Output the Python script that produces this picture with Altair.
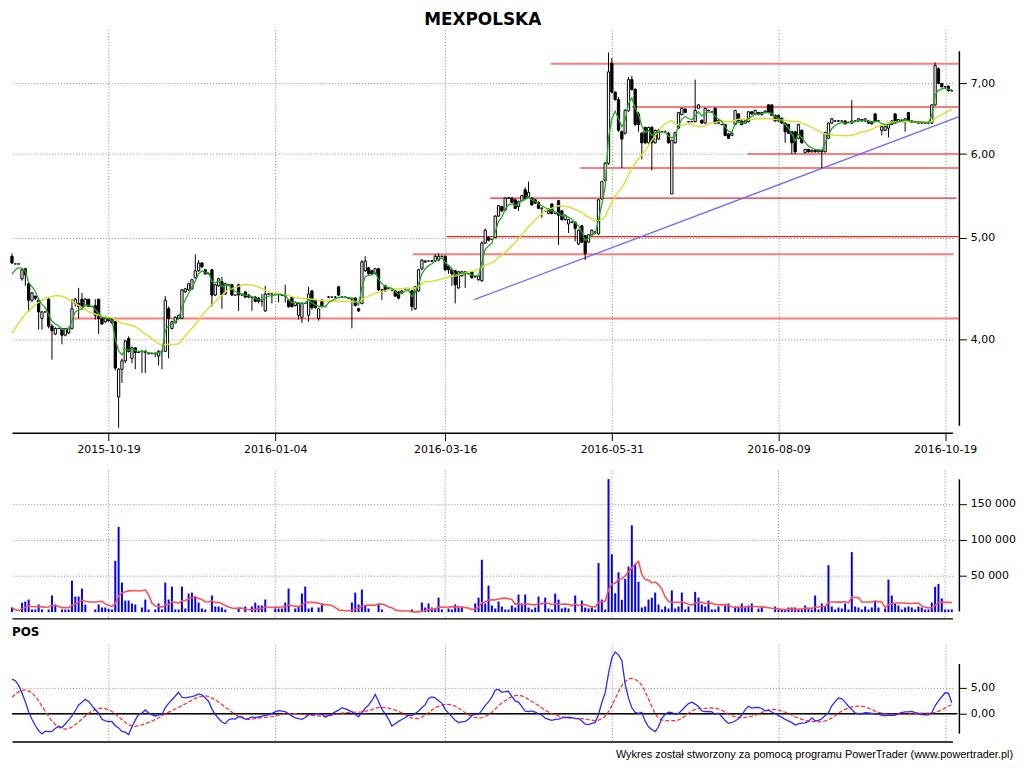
import altair as alt
import pandas as pd

# ---------------- data ----------------
open_ = [
    4.80, 4.72, 4.72, 4.57, 4.67, 4.52, 4.36, 4.40, 4.36, 4.19,
    4.25, 4.37, 4.12, 4.05, 4.10, 4.10, 4.04, 4.06, 4.10, 4.33,
    4.33, 4.37, 4.31, 4.37, 4.30, 4.31, 4.37, 4.19, 4.16, 4.19,
    4.19, 4.16, 3.53, 3.75, 3.82, 4.01, 3.84, 3.93, 3.89, 3.90,
    3.90, 3.88, 3.88, 3.88, 3.86, 3.90, 3.90, 4.28, 4.10, 4.15,
    4.19, 4.19, 4.44, 4.46, 4.47, 4.58, 4.65, 4.73, 4.66, 4.62,
    4.66, 4.41, 4.50, 4.54, 4.42, 4.51, 4.51, 4.41, 4.51, 4.41,
    4.44, 4.41, 4.39, 4.39, 4.38, 4.35, 4.26, 4.42, 4.42, 4.42,
    4.42, 4.41, 4.41, 4.36, 4.39, 4.31, 4.22, 4.20, 4.33, 4.22,
    4.45, 4.36, 4.19, 4.36, 4.30, 4.39, 4.39, 4.39, 4.49, 4.39,
    4.39, 4.38, 4.38, 4.38, 4.28, 4.33, 4.65, 4.68, 4.65, 4.62,
    4.67, 4.46, 4.50, 4.47, 4.46, 4.45, 4.44, 4.43, 4.47, 4.47,
    4.45, 4.28, 4.45, 4.67, 4.74, 4.75, 4.75, 4.75, 4.76, 4.80,
    4.80, 4.70, 4.66, 4.65, 4.48, 4.60, 4.64, 4.62, 4.64, 4.59,
    4.56, 4.55, 4.94, 5.00, 4.98, 5.00, 5.24, 5.35, 5.31, 5.45,
    5.45, 5.43, 5.35, 5.42, 5.55, 5.47, 5.45, 5.43, 5.40, 5.33,
    5.30, 5.27, 5.38, 5.27, 5.42, 5.30, 5.20, 5.15, 5.17, 5.17,
    4.93, 5.13, 5.02, 4.95, 5.03, 5.06, 5.04, 5.44, 5.66, 5.88,
    7.32, 6.87, 6.76, 6.30, 6.28, 6.60, 7.06, 6.91, 6.55, 6.28,
    6.36, 6.15, 6.36, 6.15, 6.20, 6.30, 6.30, 6.28, 5.50, 6.15,
    6.35, 6.54, 6.62, 6.44, 6.44, 6.44, 6.63, 6.46, 6.42, 6.60,
    6.58, 6.63, 6.46, 6.40, 6.40, 6.27, 6.25, 6.40, 6.55, 6.45,
    6.42, 6.44, 6.58, 6.55, 6.57, 6.54, 6.57, 6.68, 6.68, 6.53,
    6.53, 6.49, 6.42, 6.40, 6.30, 6.30, 6.21, 6.32, 6.02, 6.06,
    6.03, 6.05, 6.03, 6.05, 6.03, 6.21, 6.42, 6.45, 6.45, 6.45,
    6.45, 6.43, 6.42, 6.45, 6.45, 6.47, 6.45, 6.45, 6.44, 6.55,
    6.45, 6.32, 6.32, 6.35, 6.40, 6.55, 6.44, 6.46, 6.44, 6.57,
    6.45, 6.43, 6.42, 6.43, 6.42, 6.43, 6.42, 6.68, 7.23, 7.00,
    6.95, 6.96, 6.89,
]
close = [
    4.73, 4.72, 4.72, 4.66, 4.61, 4.36, 4.43, 4.38, 4.25, 4.25,
    4.25, 4.12, 4.08, 4.10, 4.10, 4.04, 4.10, 4.10, 4.28, 4.37,
    4.30, 4.29, 4.37, 4.30, 4.30, 4.22, 4.19, 4.14, 4.19, 4.17,
    4.15, 3.76, 3.75, 3.82, 3.99, 3.90, 3.93, 3.89, 3.89, 3.90,
    3.89, 3.88, 3.88, 3.88, 3.90, 3.90, 4.36, 4.19, 4.16, 4.20,
    4.22, 4.46, 4.47, 4.52, 4.56, 4.65, 4.73, 4.69, 4.62, 4.62,
    4.41, 4.51, 4.57, 4.41, 4.52, 4.51, 4.41, 4.41, 4.41, 4.41,
    4.39, 4.39, 4.39, 4.35, 4.35, 4.35, 4.42, 4.42, 4.42, 4.42,
    4.42, 4.41, 4.40, 4.30, 4.30, 4.34, 4.33, 4.33, 4.33, 4.42,
    4.29, 4.29, 4.28, 4.30, 4.30, 4.39, 4.39, 4.39, 4.41, 4.39,
    4.39, 4.38, 4.37, 4.31, 4.26, 4.74, 4.75, 4.62, 4.62, 4.67,
    4.46, 4.46, 4.45, 4.47, 4.46, 4.40, 4.38, 4.45, 4.47, 4.47,
    4.30, 4.49, 4.66, 4.76, 4.75, 4.75, 4.75, 4.80, 4.80, 4.80,
    4.66, 4.66, 4.62, 4.51, 4.64, 4.64, 4.62, 4.62, 4.58, 4.59,
    4.60, 4.94, 5.08, 4.97, 4.98, 5.24, 5.36, 5.30, 5.45, 5.45,
    5.40, 5.33, 5.41, 5.48, 5.45, 5.52, 5.37, 5.39, 5.33, 5.33,
    5.30, 5.30, 5.27, 5.27, 5.25, 5.20, 5.25, 5.20, 5.17, 5.10,
    5.08, 4.95, 4.83, 5.03, 5.08, 5.06, 5.43, 5.65, 5.88, 7.18,
    6.87, 6.76, 6.32, 6.20, 6.60, 7.06, 6.91, 6.40, 6.40, 6.15,
    6.15, 6.36, 6.15, 6.32, 6.32, 6.30, 6.30, 6.15, 6.18, 6.29,
    6.57, 6.63, 6.57, 6.44, 6.44, 6.60, 6.68, 6.42, 6.63, 6.60,
    6.58, 6.42, 6.42, 6.40, 6.25, 6.21, 6.28, 6.60, 6.45, 6.40,
    6.45, 6.58, 6.55, 6.60, 6.54, 6.57, 6.59, 6.57, 6.53, 6.45,
    6.45, 6.42, 6.30, 6.28, 6.15, 6.03, 6.40, 6.15, 6.06, 6.03,
    6.05, 6.03, 6.05, 6.03, 6.29, 6.42, 6.48, 6.45, 6.45, 6.45,
    6.41, 6.43, 6.45, 6.45, 6.48, 6.45, 6.48, 6.42, 6.41, 6.45,
    6.45, 6.37, 6.37, 6.40, 6.45, 6.42, 6.47, 6.46, 6.48, 6.45,
    6.43, 6.43, 6.44, 6.42, 6.43, 6.42, 6.68, 7.28, 7.00, 6.95,
    6.95, 6.89, 6.89,
]
high = [
    4.83, 4.72, 4.72, 4.68, 4.68, 4.53, 4.44, 4.40, 4.38, 4.26,
    4.25, 4.38, 4.14, 4.11, 4.10, 4.10, 4.10, 4.11, 4.37, 4.38,
    4.48, 4.43, 4.38, 4.37, 4.30, 4.37, 4.37, 4.20, 4.20, 4.19,
    4.19, 4.17, 3.76, 3.84, 4.00, 4.03, 3.94, 3.93, 3.89, 3.91,
    3.91, 3.88, 3.88, 3.89, 3.91, 3.90, 4.40, 4.30, 4.17, 4.21,
    4.22, 4.47, 4.48, 4.53, 4.57, 4.82, 4.76, 4.74, 4.67, 4.62,
    4.67, 4.52, 4.58, 4.59, 4.53, 4.51, 4.52, 4.41, 4.52, 4.41,
    4.45, 4.42, 4.40, 4.40, 4.39, 4.42, 4.50, 4.43, 4.43, 4.42,
    4.43, 4.42, 4.51, 4.37, 4.40, 4.35, 4.34, 4.34, 4.33, 4.49,
    4.46, 4.37, 4.29, 4.37, 4.30, 4.40, 4.39, 4.40, 4.50, 4.40,
    4.39, 4.39, 4.38, 4.39, 4.29, 4.76, 4.80, 4.69, 4.66, 4.68,
    4.68, 4.47, 4.51, 4.48, 4.47, 4.46, 4.45, 4.46, 4.48, 4.47,
    4.46, 4.50, 4.67, 4.77, 4.76, 4.75, 4.76, 4.82, 4.83, 4.80,
    4.81, 4.71, 4.67, 4.66, 4.65, 4.65, 4.64, 4.62, 4.65, 4.60,
    4.61, 4.96, 5.10, 5.01, 4.98, 5.25, 5.37, 5.36, 5.46, 5.46,
    5.46, 5.44, 5.42, 5.49, 5.58, 5.65, 5.46, 5.44, 5.41, 5.34,
    5.31, 5.31, 5.39, 5.28, 5.43, 5.31, 5.26, 5.21, 5.18, 5.18,
    5.09, 5.14, 5.03, 5.04, 5.09, 5.07, 5.44, 5.66, 5.90, 7.49,
    7.40, 6.88, 6.80, 6.32, 6.62, 7.10, 7.12, 6.93, 6.58, 6.30,
    6.37, 6.37, 6.38, 6.33, 6.34, 6.31, 6.32, 6.30, 6.19, 6.30,
    6.58, 6.64, 6.63, 6.45, 6.44, 7.06, 6.69, 6.47, 6.64, 6.61,
    6.58, 6.64, 6.47, 6.41, 6.41, 6.28, 6.29, 6.61, 6.56, 6.46,
    6.46, 6.59, 6.59, 6.61, 6.58, 6.58, 6.60, 6.69, 6.69, 6.54,
    6.54, 6.50, 6.43, 6.41, 6.31, 6.31, 6.41, 6.33, 6.07, 6.07,
    6.06, 6.06, 6.06, 6.06, 6.30, 6.43, 6.49, 6.46, 6.46, 6.45,
    6.46, 6.44, 6.75, 6.46, 6.49, 6.48, 6.49, 6.46, 6.45, 6.56,
    6.46, 6.38, 6.38, 6.41, 6.46, 6.56, 6.48, 6.47, 6.49, 6.58,
    6.46, 6.44, 6.45, 6.44, 6.44, 6.44, 6.69, 7.33, 7.25, 7.01,
    6.96, 6.97, 6.90,
]
low = [
    4.72, 4.72, 4.72, 4.55, 4.50, 4.25, 4.34, 4.36, 4.09, 4.09,
    4.25, 4.10, 3.83, 4.04, 4.10, 3.96, 4.03, 4.05, 4.09, 4.30,
    4.19, 4.27, 4.30, 4.30, 4.30, 4.18, 4.05, 4.13, 4.15, 4.16,
    4.14, 3.74, 3.30, 3.64, 3.80, 3.89, 3.80, 3.75, 3.89, 3.72,
    3.72, 3.88, 3.88, 3.85, 3.78, 3.75, 3.90, 3.84, 4.09, 4.15,
    4.19, 4.19, 4.43, 4.45, 4.46, 4.57, 4.64, 4.68, 4.61, 4.62,
    4.30, 4.40, 4.49, 4.28, 4.41, 4.51, 4.40, 4.41, 4.26, 4.41,
    4.38, 4.38, 4.26, 4.34, 4.33, 4.30, 4.25, 4.41, 4.33, 4.42,
    4.34, 4.40, 4.34, 4.29, 4.29, 4.30, 4.18, 4.15, 4.33, 4.16,
    4.27, 4.28, 4.17, 4.29, 4.30, 4.38, 4.39, 4.38, 4.40, 4.38,
    4.39, 4.37, 4.10, 4.30, 4.25, 4.32, 4.64, 4.61, 4.61, 4.61,
    4.45, 4.36, 4.44, 4.46, 4.45, 4.39, 4.37, 4.42, 4.46, 4.47,
    4.26, 4.27, 4.44, 4.66, 4.73, 4.75, 4.74, 4.74, 4.75, 4.80,
    4.65, 4.62, 4.50, 4.33, 4.47, 4.59, 4.48, 4.62, 4.57, 4.58,
    4.55, 4.54, 4.93, 4.96, 4.98, 4.99, 5.23, 5.29, 5.30, 5.44,
    5.39, 5.32, 5.30, 5.41, 5.44, 5.46, 5.36, 5.38, 5.32, 5.22,
    5.29, 5.26, 5.26, 5.26, 4.92, 5.19, 5.19, 5.05, 5.16, 4.96,
    4.92, 4.94, 4.76, 4.94, 5.02, 5.05, 5.03, 5.43, 5.65, 5.86,
    6.85, 6.74, 6.30, 5.82, 6.26, 6.58, 6.89, 6.38, 6.30, 5.93,
    6.13, 6.14, 5.79, 6.14, 6.19, 6.29, 6.28, 6.14, 5.50, 6.14,
    6.34, 6.53, 6.56, 6.43, 6.44, 6.43, 6.62, 6.41, 6.41, 6.59,
    6.58, 6.41, 6.41, 6.39, 6.24, 6.20, 6.24, 6.39, 6.44, 6.39,
    6.41, 6.43, 6.54, 6.54, 6.53, 6.53, 6.56, 6.56, 6.52, 6.44,
    6.44, 6.41, 6.15, 6.27, 6.00, 6.00, 6.20, 6.14, 6.01, 6.02,
    6.02, 6.02, 6.02, 5.82, 6.02, 6.20, 6.41, 6.44, 6.44, 6.45,
    6.40, 6.42, 6.41, 6.44, 6.44, 6.44, 6.44, 6.41, 6.40, 6.44,
    6.44, 6.25, 6.31, 6.22, 6.39, 6.41, 6.43, 6.45, 6.30, 6.44,
    6.42, 6.42, 6.41, 6.41, 6.41, 6.41, 6.41, 6.67, 6.99, 6.94,
    6.94, 6.88, 6.88,
]
volume = [
    6400, 0, 0, 12900, 14700, 17400, 3700, 3700, 10600, 3700,
    0, 3700, 23000, 10600, 0, 3700, 3700, 3700, 43600, 21600,
    21600, 32600, 10600, 0, 0, 3700, 10600, 6400, 6400, 4600,
    3700, 71000, 118000, 40900, 16000, 16000, 12000, 10600, 0, 6400,
    17400, 3700, 0, 3700, 12000, 3700, 40900, 17400, 35300, 3700,
    3700, 35300, 5000, 25700, 27000, 21600, 13300, 5000, 3700, 0,
    23000, 7800, 7800, 6400, 3700, 0, 0, 0, 6400, 0,
    7800, 0, 7800, 13300, 9200, 9200, 17400, 0, 0, 5000,
    5000, 5000, 13300, 32600, 0, 5000, 7800, 25700, 35300, 5000,
    6400, 0, 6400, 12000, 0, 0, 0, 0, 0, 0,
    0, 0, 13300, 27000, 10600, 31200, 9200, 5000, 0, 0,
    12000, 3700, 0, 0, 0, 0, 0, 0, 0, 0,
    3700, 0, 0, 13300, 6400, 12000, 6400, 5000, 20000, 3700,
    0, 5000, 3700, 10600, 6400, 7800, 0, 0, 0, 12000,
    20000, 72500, 12000, 36700, 9200, 5000, 14700, 7800, 3700, 3700,
    9200, 6400, 24300, 12000, 24300, 6400, 3700, 6400, 21600, 0,
    20000, 5000, 3700, 25700, 17400, 5000, 6400, 5000, 0, 23000,
    0, 16000, 6400, 5000, 6400, 3700, 68000, 17400, 3700, 184000,
    80000, 26000, 55000, 17000, 46000, 63000, 120000, 67000, 42000, 6400,
    7800, 17400, 20000, 27000, 10600, 3700, 7800, 5000, 30000, 5000,
    7800, 27000, 3700, 7800, 0, 28000, 20000, 10600, 7800, 16000,
    3700, 3700, 7800, 0, 9200, 12000, 0, 7800, 7800, 12000,
    7800, 9200, 12000, 0, 5000, 7800, 0, 0, 0, 7800,
    3700, 3700, 3700, 6400, 6400, 6400, 3700, 3700, 9200, 5000,
    3700, 23000, 3700, 12000, 7800, 65000, 7800, 3700, 6400, 5000,
    12000, 3700, 83000, 7800, 6400, 3700, 7800, 3700, 6400, 16000,
    6400, 0, 5000, 45000, 23000, 12000, 9200, 3700, 6400, 7800,
    6400, 3700, 7800, 6400, 3700, 3700, 13300, 35000, 39000, 19000,
    3700, 3700, 3700,
]
# closes before the first visible session, estimated from where the
# moving averages and the oscillator start on the left edge
warmup_close = [3.80, 3.78, 3.82, 3.80, 3.79, 3.81, 3.83, 3.80, 3.82, 3.85,
                3.88, 3.90, 3.92, 3.95, 4.05, 4.20, 4.35, 4.50, 4.62, 4.70]

holidays = ["2015-11-11", "2015-12-24", "2015-12-25", "2015-12-31", "2016-01-01",
            "2016-01-06", "2016-03-25", "2016-03-28", "2016-05-03", "2016-05-26",
            "2016-08-15"]
tick_dates = ["2015-10-19", "2016-01-04", "2016-03-16", "2016-05-31", "2016-08-09", "2016-10-19"]

# horizontal support / resistance lines (price, first bar, last bar, emphasised)
level_price = [7.31, 6.65, 6.00, 5.82, 5.45, 5.01, 4.82, 4.19]
level_start = [161.7, 186.0, 220.7, 170.5, 143.5, 130.4, 120.3, 18.1]
level_end = [284.0, 284.0, 284.0, 284.0, 283.4, 284.0, 282.5, 284.0]
level_strong = [False, False, False, False, True, True, False, False]
# rising trend line
trend_bar = [138.7, 284.0]
trend_price = [4.366, 6.507]

# ---------------- table ----------------
n = len(close)
days = [d.strftime("%Y-%m-%d") for d in pd.bdate_range("2015-09-08", "2016-10-21")]
dates = [d for d in days if d not in holidays]
dates = (dates + [""] * n)[:n]
tick_idx = [dates.index(d) if d in dates else 0 for d in tick_dates]

full = pd.Series(warmup_close + close, dtype=float)
w = len(warmup_close)
sma5 = full.rolling(5, min_periods=1).mean()
sma10 = full.rolling(10, min_periods=1).mean()
pos = 100 * (sma5 / sma10 - 1)
sig = pos.rolling(10, min_periods=1).mean()

df = pd.DataFrame({
    "i": range(n), "date": dates, "open": open_, "high": high, "low": low,
    "close": close, "volume": volume,
})
df["ma_fast"] = full.ewm(span=4, adjust=False).mean().iloc[w:].values
df["ma_slow"] = full.rolling(20, min_periods=1).mean().iloc[w:].values
df["pos"] = pos.iloc[w:].values
df["pos_sig"] = sig.iloc[w:].values
df["vol_ma"] = pd.Series(volume, dtype=float).rolling(10, min_periods=1).mean().values

levels = pd.DataFrame({"price": level_price, "start": level_start,
                       "end": level_end, "strong": level_strong})
trend = pd.DataFrame({"i": trend_bar, "price": trend_price})
ticks = pd.DataFrame({"i": tick_idx})
one = pd.DataFrame({"a": [0]})

# ---------------- styling ----------------
FONT = "DejaVu Sans"
W = 947
GRID = "#888888"
xscale = alt.Scale(domain=[0, 282.2], zero=False, nice=False, padding=0)
label_expr = " : ".join(f"datum.value == {k} ? '{d}'" for k, d in zip(tick_idx, tick_dates)) + " : ''"

x_main_axis = alt.Axis(values=tick_idx, labelExpr=label_expr, grid=True, gridDash=[1, 2],
                       gridColor=GRID, tickSize=8, tickColor="black", domainColor="black",
                       domainWidth=1.5, labelFlush=False, labelOverlap=False, labelPadding=3,
                       labelFont=FONT, labelFontSize=11, labelColor="black", title=None)
x_plain_axis = alt.Axis(values=tick_idx, labels=False, ticks=False, grid=False,
                        domainColor="black", domainWidth=1.5, title=None)
x_pos_axis = alt.Axis(values=tick_idx, labels=False, ticks=False, grid=True, gridDash=[1, 2],
                      gridColor=GRID, domainColor="black", domainWidth=1.5, title=None)

XM = alt.X("i:Q", scale=xscale, axis=x_main_axis)
XV = alt.X("i:Q", scale=xscale, axis=x_plain_axis)
XP = alt.X("i:Q", scale=xscale, axis=x_pos_axis)


def right_axis(values, expr):
    return alt.Axis(orient="right", values=values, offset=7, domain=False, tickSize=7,
                    tickColor="black", grid=True, gridDash=[1, 2], gridColor=GRID,
                    labelExpr=expr, labelPadding=4, labelFont=FONT, labelFontSize=11,
                    labelColor="black", title=None)


DEC = "replace(format(datum.value, '.2f'), '.', ',')"

# ---------------- price panel ----------------
H_MAIN = 406
yscale = alt.Scale(type="log", domain=[3.265, 7.877], nice=False, zero=False, padding=0)
y_axis = right_axis([4, 5, 6, 7], DEC)


def YP(field):
    return alt.Y(field, scale=yscale, axis=y_axis)


base = alt.Chart(df)
lev_norm = alt.Chart(levels).transform_filter("!datum.strong").mark_rule(
    color="#ff7b7b", strokeWidth=2).encode(x=alt.X("start:Q", scale=xscale, axis=x_main_axis),
                                           x2="end:Q", y=YP("price:Q"))
lev_strong = alt.Chart(levels).transform_filter("datum.strong").mark_rule(
    color="#ff2020", strokeWidth=1.4).encode(x=alt.X("start:Q", scale=xscale, axis=x_main_axis),
                                             x2="end:Q", y=YP("price:Q"))
trend_line = alt.Chart(trend).mark_line(color="#6a6aff", strokeWidth=1.3).encode(x=XM, y=YP("price:Q"))
wick = base.mark_rule(color="black", strokeWidth=1).encode(x=XM, y=YP("low:Q"), y2="high:Q")
body = base.mark_bar(size=2.3, stroke="black", strokeWidth=1).encode(
    x=XM, y=YP("open:Q"), y2="close:Q",
    fill=alt.condition("datum.close > datum.open", alt.value("white"), alt.value("black")))
ma_slow = base.mark_line(color="#dcdc3c", strokeWidth=1.5).encode(x=XM, y=YP("ma_slow:Q"))
ma_fast = base.mark_line(color="#22a822", strokeWidth=1.3).encode(x=XM, y=YP("ma_fast:Q"))
y_line = alt.Chart(one).mark_rule(color="black", strokeWidth=1.5).encode(
    x=alt.value(954), y=alt.value(22), y2=alt.value(399))
title = alt.Chart(pd.DataFrame({"t": ["MEXPOLSKA"]})).mark_text(
    font=FONT, fontSize=17, fontWeight="bold", color="black").encode(
    text="t:N", x=alt.value(474), y=alt.value(-10))

price_panel = alt.layer(lev_norm, lev_strong, trend_line, wick, body, ma_slow, ma_fast,
                        y_line, title).properties(width=W, height=H_MAIN)

# ---------------- volume panel ----------------
H_VOL = 161
vscale = alt.Scale(domain=[-8650, 212500], nice=False, zero=False, padding=0)
v_axis = right_axis([50000, 100000, 150000], "replace(format(datum.value, ','), ',', ' ')")
vgrid = alt.Chart(ticks).mark_rule(color=GRID, strokeDash=[1, 2], strokeWidth=1).encode(
    x=XV, y=alt.value(12), y2=alt.value(161))
vbars = base.mark_bar(size=2, color="#0000ff").encode(
    x=XV, y=alt.Y("volume:Q", scale=vscale, axis=v_axis), y2=alt.datum(0))
vma = base.mark_line(color="#ff5050", strokeWidth=1.6).encode(
    x=XV, y=alt.Y("vol_ma:Q", scale=vscale, axis=v_axis))
v_line = alt.Chart(one).mark_rule(color="black", strokeWidth=1.5).encode(
    x=alt.value(954), y=alt.value(21), y2=alt.value(154))
vol_panel = alt.layer(vgrid, vbars, vma, v_line).properties(width=W, height=H_VOL)

# ---------------- POS panel ----------------
H_POS = 98
pscale = alt.Scale(domain=[-5.385, 13.46], nice=False, zero=False, padding=0)
p_axis = right_axis([0, 5], DEC)
zero_line = alt.Chart(one).mark_rule(color="black", strokeWidth=1.5).encode(
    x=alt.value(0), x2=alt.value(952), y=alt.datum(0))
pos_sig = base.mark_line(color="#ff3030", strokeWidth=1.3, strokeDash=[4, 2]).encode(
    x=XP, y=alt.Y("pos_sig:Q", scale=pscale, axis=p_axis))
pos_line = base.mark_line(color="#2a2aff", strokeWidth=1.3).encode(
    x=XP, y=alt.Y("pos:Q", scale=pscale, axis=p_axis))
p_line = alt.Chart(one).mark_rule(color="black", strokeWidth=1.5).encode(
    x=alt.value(954), y=alt.value(20), y2=alt.value(90))
pos_label = alt.Chart(pd.DataFrame({"t": ["POS"]})).mark_text(
    font=FONT, fontSize=12, fontWeight="bold", align="left", color="black").encode(
    text="t:N", x=alt.value(0), y=alt.value(-12))
footer = alt.Chart(pd.DataFrame({"t": ["Wykres został stworzony za pomocą programu PowerTrader (www.powertrader.pl)"]})).mark_text(
    font="Liberation Sans", fontSize=11, align="right", color="black").encode(
    text="t:N", x=alt.value(1008), y=alt.value(112))
pos_panel = alt.layer(zero_line, pos_sig, pos_line, p_line, pos_label, footer).properties(
    width=W, height=H_POS)

chart = alt.vconcat(price_panel, vol_panel, pos_panel, spacing=26, bounds="flush").properties(
    padding={"left": 0, "top": 0, "right": 0, "bottom": 0}, background="white"
).configure_view(stroke=None).configure_axis(
    labelFont=FONT, labelFontSize=11, labelColor="black"
)

chart.save("out.html", embed_options={"renderer": "svg", "actions": False})
